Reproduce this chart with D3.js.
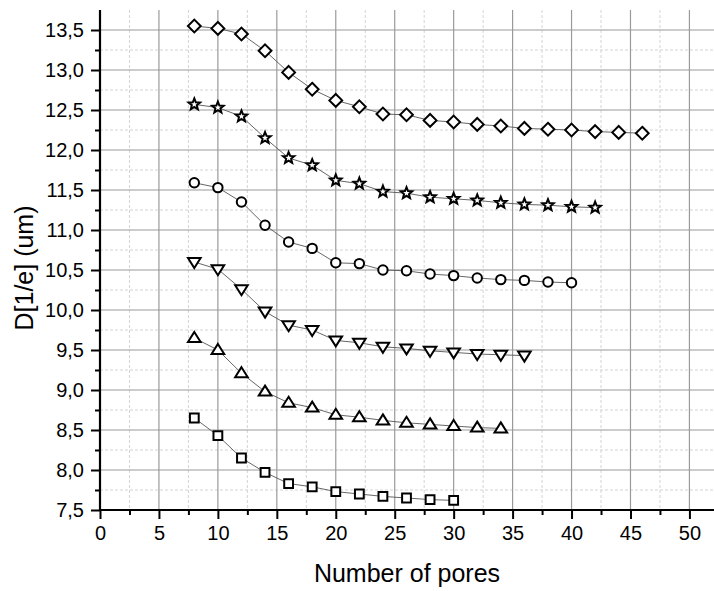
<!DOCTYPE html>
<html>
<head>
<meta charset="utf-8">
<script src="https://cdn.jsdelivr.net/npm/d3@7"></script>
<style>
  html, body { margin: 0; padding: 0; background: #fff; }
  svg { display: block; font-family: "Liberation Sans", Arial, sans-serif; }
</style>
</head>
<body>
<svg id="chart" width="714" height="591"></svg>
<script>
// Pore counts and fitted beam diameters D[1/e] for six series
const poresDiamond = [8,10,12,14,16,18,20,22,24,26,28,30,32,34,36,38,40,42,44,46];
const valuesDiamond = [13.55,13.52,13.45,13.24,12.97,12.76,12.62,12.54,12.45,12.44,12.37,12.35,12.32,12.30,12.27,12.26,12.25,12.23,12.22,12.21];

const poresStar = [8,10,12,14,16,18,20,22,24,26,28,30,32,34,36,38,40,42];
const valuesStar = [12.57,12.53,12.42,12.15,11.90,11.81,11.62,11.58,11.48,11.46,11.41,11.39,11.37,11.34,11.32,11.31,11.29,11.28];

const poresCircle = [8,10,12,14,16,18,20,22,24,26,28,30,32,34,36,38,40];
const valuesCircle = [11.59,11.53,11.35,11.06,10.85,10.77,10.59,10.58,10.50,10.49,10.45,10.43,10.40,10.38,10.37,10.35,10.34];

const poresTriDown = [8,10,12,14,16,18,20,22,24,26,28,30,32,34,36];
const valuesTriDown = [10.60,10.51,10.26,9.98,9.81,9.75,9.62,9.59,9.54,9.52,9.49,9.47,9.45,9.44,9.43];

const poresTriUp = [8,10,12,14,16,18,20,22,24,26,28,30,32,34];
const valuesTriUp = [9.65,9.50,9.21,8.98,8.84,8.78,8.69,8.66,8.62,8.59,8.57,8.55,8.53,8.52];

const poresSquare = [8,10,12,14,16,18,20,22,24,26,28,30];
const valuesSquare = [8.65,8.43,8.15,7.97,7.83,7.79,7.73,7.70,7.67,7.65,7.63,7.62];

const xMajorTicks = [0,5,10,15,20,25,30,35,40,45,50];
const yMajorTicks = [7.5,8.0,8.5,9.0,9.5,10.0,10.5,11.0,11.5,12.0,12.5,13.0,13.5];

const xTitle = "Number of pores";
const yTitle = "D[1/e] (um)";

const series = [
  { shape: "diamond", x: poresDiamond, y: valuesDiamond },
  { shape: "star", x: poresStar, y: valuesStar },
  { shape: "circle", x: poresCircle, y: valuesCircle },
  { shape: "triDown", x: poresTriDown, y: valuesTriDown },
  { shape: "triUp", x: poresTriUp, y: valuesTriUp },
  { shape: "square", x: poresSquare, y: valuesSquare }
];

const svg = d3.select("#chart");
const plotLeft = 100, plotRight = 713, plotTop = 10, plotBottom = 510;

const x = d3.scaleLinear().domain([0, 52]).range([plotLeft, plotRight]);
const y = d3.scaleLinear().domain([7.5, 13.75]).range([plotBottom, plotTop]);

const xMinor = d3.range(2.5, 52, 5);
const yMinor = d3.range(7.75, 13.6, 0.5);

// Grid: dotted minor lines, solid major lines
const grid = svg.append("g");
grid.selectAll(".vminor").data(xMinor).join("line")
  .attr("x1", d => x(d)).attr("x2", d => x(d)).attr("y1", plotTop).attr("y2", plotBottom)
  .attr("stroke", "#d4d4d4").attr("stroke-width", 1).attr("stroke-dasharray", "3,2");
grid.selectAll(".hminor").data(yMinor).join("line")
  .attr("y1", d => y(d)).attr("y2", d => y(d)).attr("x1", plotLeft).attr("x2", 714)
  .attr("stroke", "#d4d4d4").attr("stroke-width", 1).attr("stroke-dasharray", "3,2");
grid.selectAll(".vmajor").data(xMajorTicks.slice(1)).join("line")
  .attr("x1", d => x(d)).attr("x2", d => x(d)).attr("y1", plotTop).attr("y2", plotBottom)
  .attr("stroke", "#9a9a9a").attr("stroke-width", 1.2);
grid.selectAll(".hmajor").data(yMajorTicks.slice(1)).join("line")
  .attr("y1", d => y(d)).attr("y2", d => y(d)).attr("x1", plotLeft).attr("x2", 714)
  .attr("stroke", "#9a9a9a").attr("stroke-width", 1.2);

// Axes
const fmtY = v => d3.format(".1f")(v).replace(".", ",");

const xAxis = svg.append("g").attr("transform", `translate(0,${plotBottom})`);
xAxis.call(d3.axisBottom(x).tickValues(xMinor).tickSize(5).tickFormat(""));
xAxis.call(g => g.select(".domain").remove());
const xAxisMajor = svg.append("g").attr("transform", `translate(0,${plotBottom})`)
  .call(d3.axisBottom(x).tickValues(xMajorTicks).tickSize(9).tickSizeOuter(0).tickPadding(7).tickFormat(d3.format("d")));
xAxisMajor.select(".domain").remove();

const yAxis = svg.append("g").attr("transform", `translate(${plotLeft},0)`);
yAxis.call(d3.axisLeft(y).tickValues(yMinor).tickSize(5).tickFormat(""));
yAxis.call(g => g.select(".domain").remove());
const yAxisMajor = svg.append("g").attr("transform", `translate(${plotLeft},0)`)
  .call(d3.axisLeft(y).tickValues(yMajorTicks).tickSize(9).tickSizeOuter(0).tickPadding(7).tickFormat(fmtY));
yAxisMajor.select(".domain").remove();

svg.selectAll(".tick line").attr("stroke", "#000").attr("stroke-width", 2);
svg.selectAll(".tick text").attr("fill", "#000").style("font-size", "20px")
  .style("font-family", '"Liberation Sans", Arial, sans-serif');

svg.append("line").attr("x1", plotLeft).attr("x2", plotLeft).attr("y1", plotTop).attr("y2", plotBottom + 1)
  .attr("stroke", "#000").attr("stroke-width", 2.2);
svg.append("line").attr("x1", plotLeft - 1).attr("x2", 714).attr("y1", plotBottom).attr("y2", plotBottom)
  .attr("stroke", "#000").attr("stroke-width", 2.2);

// Axis titles
svg.append("text").attr("x", (plotLeft + 714) / 2).attr("y", 582)
  .attr("text-anchor", "middle").style("font-size", "25px").attr("fill", "#000").text(xTitle);
svg.append("text").attr("transform", `translate(33,${(plotTop + plotBottom) / 2 + 8}) rotate(-90)`)
  .attr("text-anchor", "middle").style("font-size", "25px").attr("fill", "#000").text(yTitle);

// Marker shapes, centred on the origin
function markerPath(shape) {
  const p = d3.path();
  if (shape === "diamond") {
    const r = 6.4;
    p.moveTo(0, -r); p.lineTo(r, 0); p.lineTo(0, r); p.lineTo(-r, 0); p.closePath();
  } else if (shape === "square") {
    const h = 4.4;
    p.rect(-h, -h, 2 * h, 2 * h);
  } else if (shape === "circle") {
    p.arc(0, 0, 4.7, 0, 2 * Math.PI);
  } else if (shape === "triUp") {
    const w = 6.3, h = 10;
    p.moveTo(0, -h * 0.6); p.lineTo(w, h * 0.4); p.lineTo(-w, h * 0.4); p.closePath();
  } else if (shape === "triDown") {
    const w = 6.3, h = 10;
    p.moveTo(0, h * 0.6); p.lineTo(w, -h * 0.4); p.lineTo(-w, -h * 0.4); p.closePath();
  } else if (shape === "star") {
    const ro = 6, ri = 2.6;
    for (let i = 0; i < 10; i++) {
      const a = -Math.PI / 2 + i * Math.PI / 5;
      const r = i % 2 === 0 ? ro : ri;
      const px = r * Math.cos(a), py = r * Math.sin(a);
      if (i === 0) p.moveTo(px, py); else p.lineTo(px, py);
    }
    p.closePath();
  }
  return p.toString();
}

const line = d3.line().x(d => x(d[0])).y(d => y(d[1]));
const plot = svg.append("g");

series.forEach(s => {
  const pts = s.x.map((v, i) => [v, s.y[i]]);
  plot.append("path").datum(pts).attr("d", line)
    .attr("fill", "none").attr("stroke", "#555").attr("stroke-width", 0.9);
  plot.selectAll(null).data(pts).join("path")
    .attr("transform", d => `translate(${x(d[0])},${y(d[1])})`)
    .attr("d", markerPath(s.shape))
    .attr("fill", "#fff").attr("stroke", "#000").attr("stroke-width", 2)
    .attr("stroke-linejoin", "miter");
});
</script>
</body>
</html>
